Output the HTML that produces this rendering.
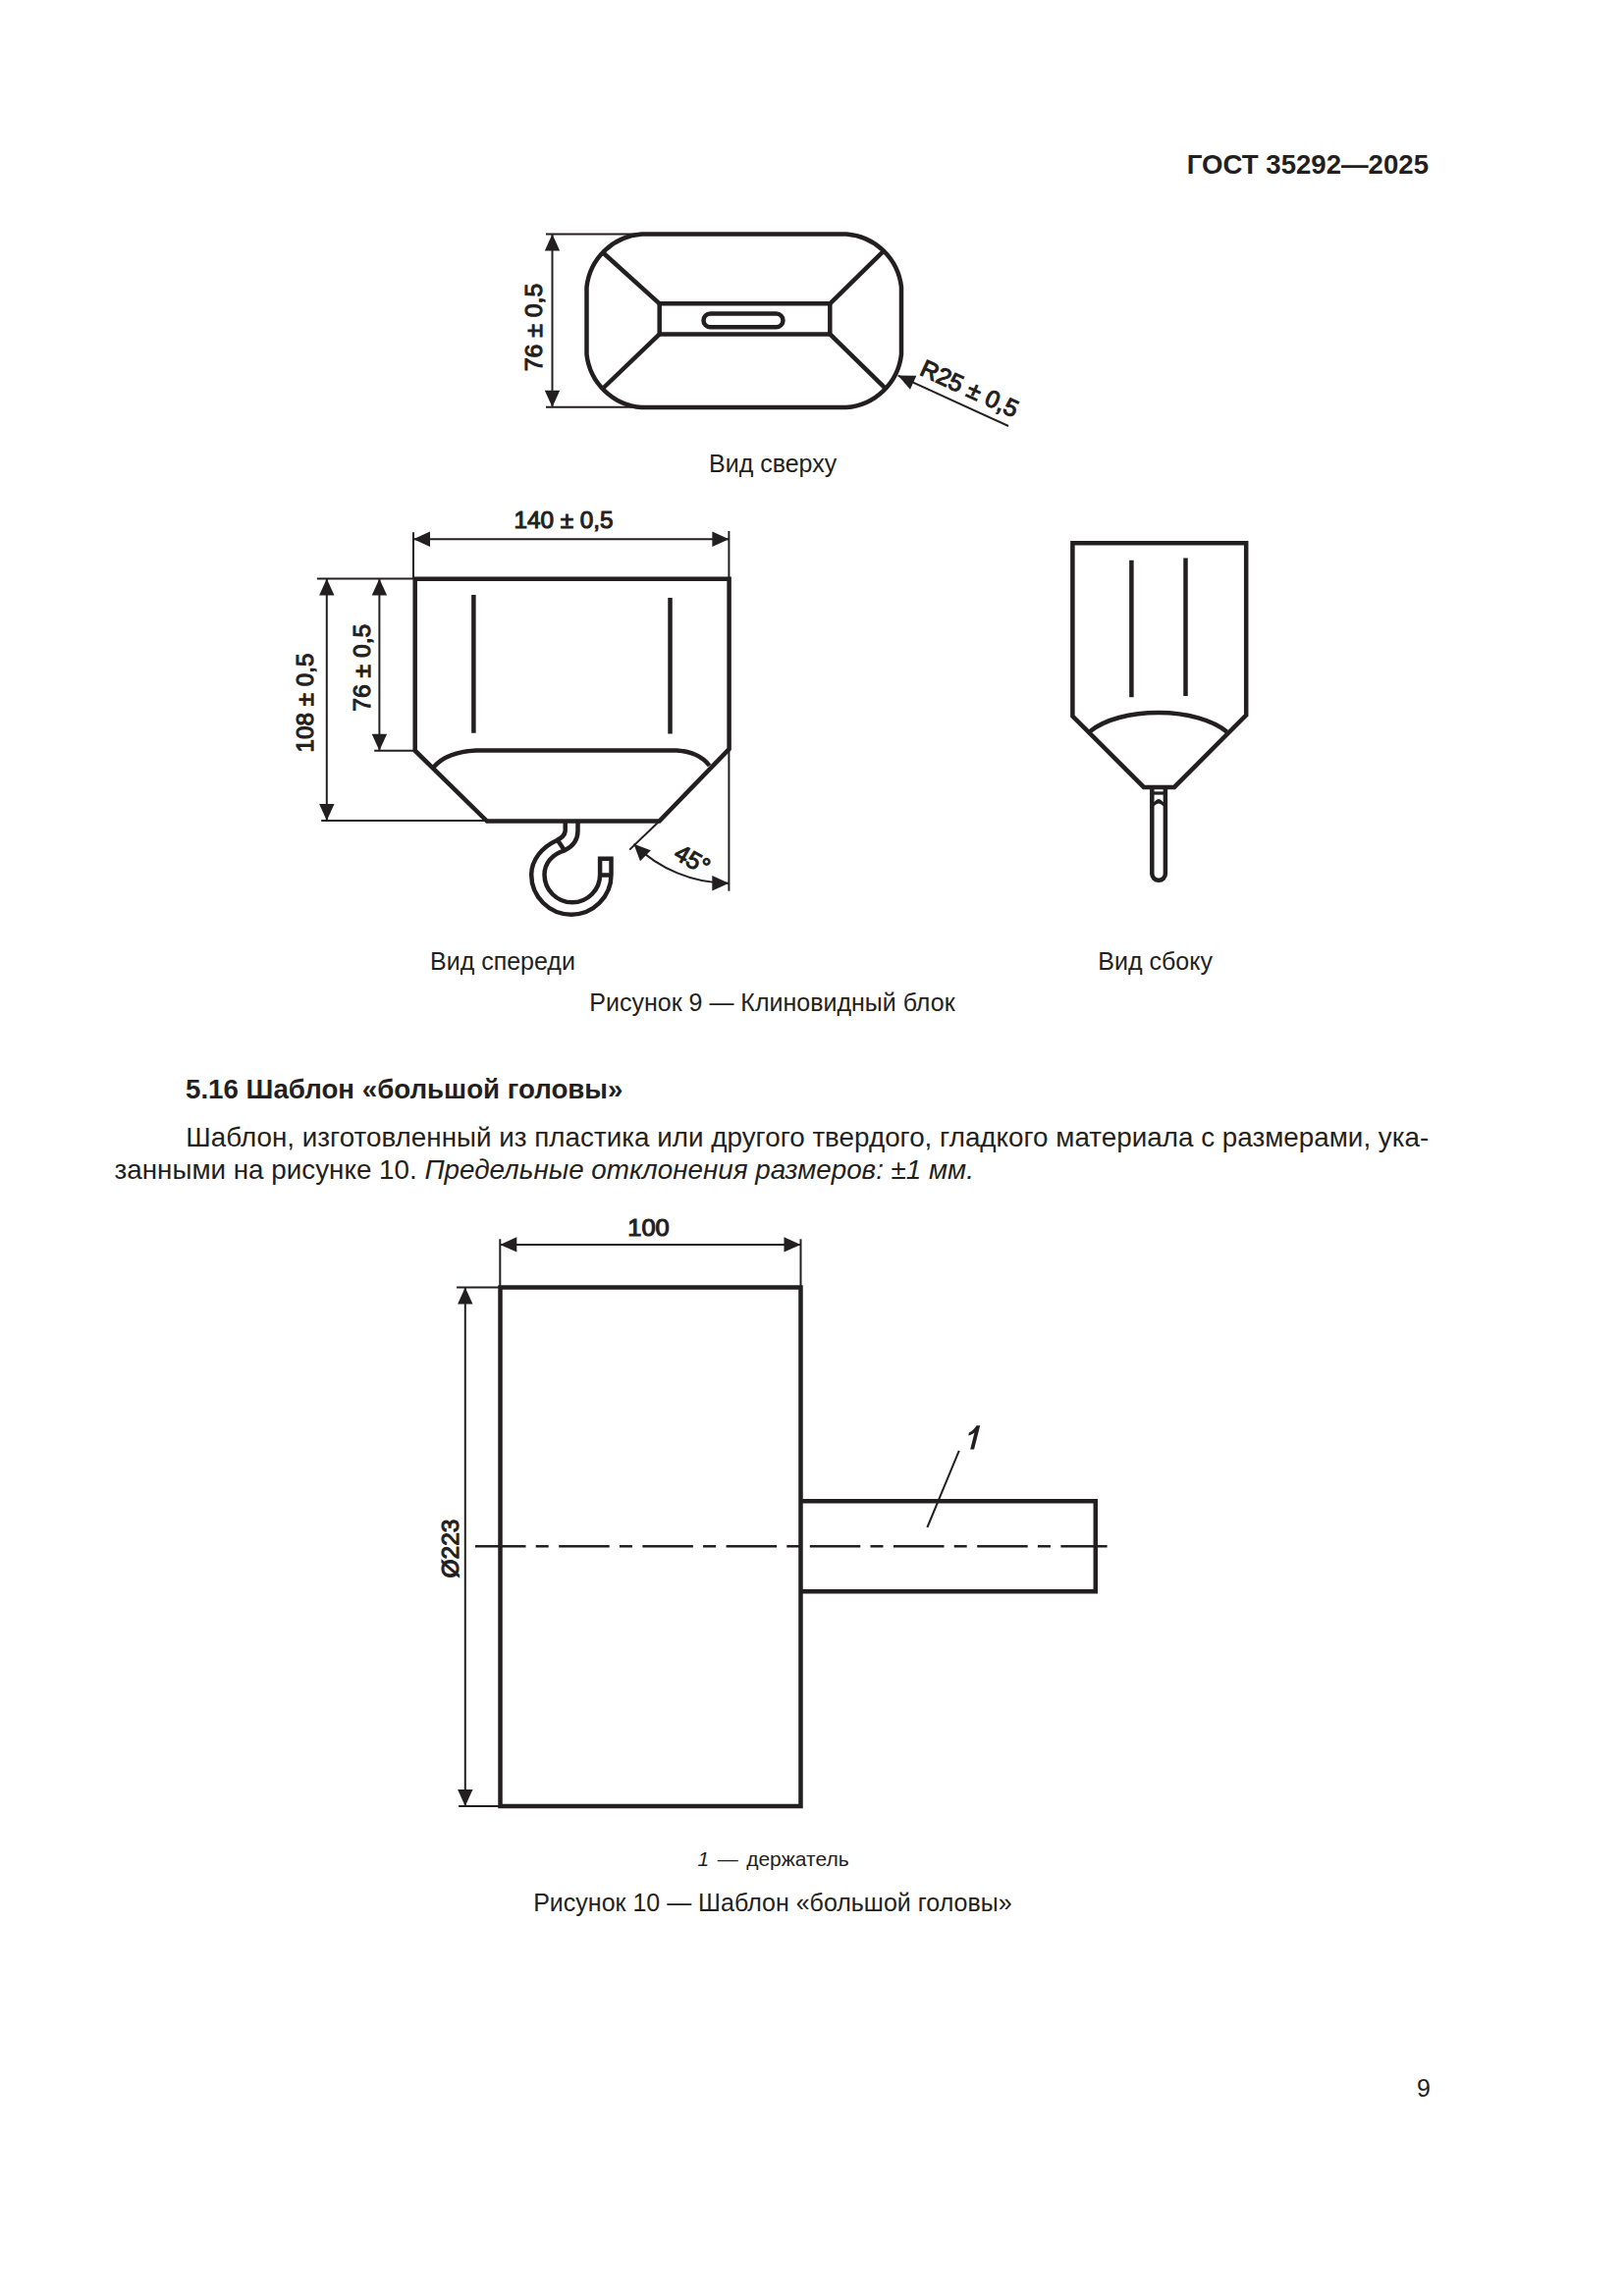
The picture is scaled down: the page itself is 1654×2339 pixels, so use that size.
<!DOCTYPE html>
<html><head><meta charset="utf-8"><style>
html,body{margin:0;padding:0;background:#fff;}
body{width:1654px;height:2339px;position:relative;overflow:hidden;font-family:"Liberation Sans",sans-serif;color:#231f20;}
svg{position:absolute;left:0;top:0;}
svg text{stroke:none;font-family:"Liberation Sans",sans-serif;fill:#231f20;}
svg text.dim{stroke:#231f20;stroke-width:1.1px;}
.t{position:absolute;white-space:nowrap;font-size:27.5px;line-height:1;}
</style></head><body>
<svg width="1654" height="2339" viewBox="0 0 1654 2339" stroke="#231f20" stroke-linecap="butt" stroke-linejoin="miter">
<path d="M653.5,238.5 H862.0 A61,61 0 0 1 918.0,292.5 V361.0 A61,61 0 0 1 862.0,415.0 H653.5 A61,61 0 0 1 597.5,361.0 V292.5 A61,61 0 0 1 653.5,238.5 Z" stroke-width="4.5" fill="none" />
<path d="M671.7,309.3 H845.3 V340.4 H671.7 Z" stroke-width="4.5" fill="none" />
<line x1="614.80" y1="258.00" x2="671.70" y2="309.30" stroke-width="4.5" />
<line x1="899.80" y1="255.90" x2="845.30" y2="309.30" stroke-width="4.5" />
<line x1="614.20" y1="395.50" x2="671.70" y2="340.40" stroke-width="4.5" />
<line x1="901.00" y1="394.80" x2="845.30" y2="340.40" stroke-width="4.5" />
<path d="M723.4,319.5 H790.6 A6.9,6.9 0 0 1 790.6,333.3 H723.4 A6.9,6.9 0 0 1 723.4,319.5 Z" stroke-width="4.5" fill="none" />
<line x1="556.00" y1="238.50" x2="650.00" y2="238.50" stroke-width="2.0" />
<line x1="556.00" y1="414.80" x2="650.00" y2="414.80" stroke-width="2.0" />
<line x1="562.50" y1="238.50" x2="562.50" y2="414.80" stroke-width="2.0" />
<polygon points="562.50,238.50 570.20,255.50 554.80,255.50" fill="#231f20" stroke="none"/>
<polygon points="562.50,414.80 554.80,397.80 570.20,397.80" fill="#231f20" stroke="none"/>
<text x="0" y="0" font-size="24.5" font-weight="normal" font-style="normal" text-anchor="middle" transform="translate(552,333.5) rotate(-90) scale(1.015,1)"  class="dim">76 ± 0,5</text>
<line x1="914.70" y1="382.60" x2="1027.00" y2="434.00" stroke-width="2.0" />
<polygon points="914.70,382.60 933.36,382.67 926.95,396.68" fill="#231f20" stroke="none"/>
<text x="0" y="0" font-size="24.5" font-weight="normal" font-style="normal" text-anchor="middle" transform="translate(984,403.5) rotate(24.6) scale(1.008,1)"  class="dim">R25 ± 0,5</text>
<text x="722" y="480.5" font-size="25" font-weight="normal" font-style="normal" text-anchor="start" >Вид сверху</text>
<path d="M422.7,589.8 H742.6 V763 L671.5,836.5 H496 L422.7,764.7 Z" stroke-width="4.5" fill="none" />
<path d="M441.8,781.3 Q455,766 484.9,764.5 H689.3 Q712,766 722.6,780" stroke-width="4.5" fill="none" />
<line x1="482.40" y1="606.00" x2="482.40" y2="746.80" stroke-width="4.5" />
<line x1="682.50" y1="609.10" x2="682.50" y2="747.40" stroke-width="4.5" />
<line x1="421.00" y1="542.30" x2="421.00" y2="589.80" stroke-width="2.0" />
<line x1="742.40" y1="541.00" x2="742.40" y2="589.80" stroke-width="2.0" />
<line x1="421.00" y1="549.20" x2="742.40" y2="549.20" stroke-width="2.0" />
<polygon points="421.00,549.20 438.00,541.50 438.00,556.90" fill="#231f20" stroke="none"/>
<polygon points="742.40,549.20 725.40,556.90 725.40,541.50" fill="#231f20" stroke="none"/>
<text x="0" y="0" font-size="24.5" font-weight="normal" font-style="normal" text-anchor="middle" transform="translate(574,537.7) scale(0.992,1)"  class="dim">140 ± 0,5</text>
<line x1="322.90" y1="589.60" x2="422.70" y2="589.60" stroke-width="2.0" />
<line x1="327.20" y1="836.10" x2="496.00" y2="836.10" stroke-width="2.0" />
<line x1="332.80" y1="589.60" x2="332.80" y2="836.10" stroke-width="2.0" />
<polygon points="332.80,589.60 340.50,606.60 325.10,606.60" fill="#231f20" stroke="none"/>
<polygon points="332.80,836.10 325.10,819.10 340.50,819.10" fill="#231f20" stroke="none"/>
<text x="0" y="0" font-size="24.5" font-weight="normal" font-style="normal" text-anchor="middle" transform="translate(318.7,716) rotate(-90) scale(0.991,1)"  class="dim">108 ± 0,5</text>
<line x1="381.20" y1="764.70" x2="422.70" y2="764.70" stroke-width="2.0" />
<line x1="386.40" y1="589.60" x2="386.40" y2="764.70" stroke-width="2.0" />
<polygon points="386.40,589.60 394.10,606.60 378.70,606.60" fill="#231f20" stroke="none"/>
<polygon points="386.40,764.70 378.70,747.70 394.10,747.70" fill="#231f20" stroke="none"/>
<text x="0" y="0" font-size="24.5" font-weight="normal" font-style="normal" text-anchor="middle" transform="translate(376.9,680.2) rotate(-90) scale(1.008,1)"  class="dim">76 ± 0,5</text>
<line x1="671.50" y1="836.50" x2="641.20" y2="865.60" stroke-width="2.0" />
<line x1="742.40" y1="763.00" x2="742.40" y2="907.70" stroke-width="2.0" />
<path d="M645.43,859.67 A137,137 0 0 0 742.30,899.80" stroke-width="2.0" fill="none" />
<polygon points="645.43,859.67 662.89,866.25 652.00,877.14" fill="#231f20" stroke="none"/>
<polygon points="742.30,899.80 725.30,907.50 725.30,892.10" fill="#231f20" stroke="none"/>
<text x="0" y="0" font-size="24.5" font-weight="normal" font-style="normal" text-anchor="middle" transform="translate(701,883) rotate(30)"  class="dim">45°</text>
<path d="M575.7,836.3 V846.6 C575,852 571,854 567.3,856 C552,863 541.2,876 541.2,891 A40.6,40.6 0 0 0 622.5,891 V874.7 H611.1 V891 A28.3,28.3 0 0 1 554.5,891 C554.5,880 562,870 575.2,866.3 C584,862 588.5,856 588.5,846.6 V836.3" stroke-width="4.5" fill="none" />
<line x1="611.10" y1="891.50" x2="622.50" y2="891.50" stroke-width="4.5" />
<line x1="568.30" y1="856.50" x2="574.20" y2="865.30" stroke-width="4.5" />
<path d="M1092.4,553.3 H1269.2 V728.5 L1196,801.9 H1164.9 L1092.4,729.5 Z" stroke-width="4.5" fill="none" />
<line x1="1152.40" y1="570.70" x2="1152.40" y2="710.20" stroke-width="4.5" />
<line x1="1207.50" y1="568.60" x2="1207.50" y2="708.90" stroke-width="4.5" />
<path d="M1110.3,745 A80,38 0 0 1 1249.5,745.5" stroke-width="4.5" fill="none" />
<path d="M1173.3,801.9 V890 A6.8,6.8 0 0 0 1186.9,890 V801.9" stroke-width="4.5" fill="none" />
<line x1="1173.30" y1="808.00" x2="1186.90" y2="808.00" stroke-width="3.3" />
<path d="M1175,821.2 V817.6 Q1178,814 1180,814 Q1182,814 1185,817.6 V821.2 Q1182,818.6 1180,818.6 Q1178,818.6 1175,821.2 Z" fill="#231f20" stroke="none"/>
<text x="438" y="987.7" font-size="25" font-weight="normal" font-style="normal" text-anchor="start" >Вид спереди</text>
<text x="1118.3" y="987.6" font-size="25" font-weight="normal" font-style="normal" text-anchor="start" >Вид сбоку</text>
<text x="600.3" y="1029.6" font-size="25" font-weight="normal" font-style="normal" text-anchor="start" >Рисунок 9 — Клиновидный блок</text>
<path d="M509.5,1311.6 H815.5 V1839.9 H509.5 Z" stroke-width="4.5" fill="none" />
<path d="M815.5,1529.3 H1115.8 V1621.3 H815.5" stroke-width="4.5" fill="none" />
<line x1="484.00" y1="1575.20" x2="1127.60" y2="1575.20" stroke-width="2.5" stroke-dasharray="51.5 10.2 13 10.5"/>
<line x1="509.30" y1="1262.30" x2="509.30" y2="1311.60" stroke-width="2.0" />
<line x1="815.50" y1="1262.30" x2="815.50" y2="1311.60" stroke-width="2.0" />
<line x1="509.30" y1="1267.90" x2="815.50" y2="1267.90" stroke-width="2.0" />
<polygon points="509.30,1267.90 526.30,1260.20 526.30,1275.60" fill="#231f20" stroke="none"/>
<polygon points="815.50,1267.90 798.50,1275.60 798.50,1260.20" fill="#231f20" stroke="none"/>
<text x="0" y="0" font-size="24.5" font-weight="normal" font-style="normal" text-anchor="middle" transform="translate(660.5,1258.8) scale(1.04,1)"  class="dim">100</text>
<line x1="465.10" y1="1311.60" x2="509.50" y2="1311.60" stroke-width="2.0" />
<line x1="467.10" y1="1839.90" x2="509.50" y2="1839.90" stroke-width="2.0" />
<line x1="473.80" y1="1311.60" x2="473.80" y2="1839.90" stroke-width="2.0" />
<polygon points="473.80,1311.60 481.50,1328.60 466.10,1328.60" fill="#231f20" stroke="none"/>
<polygon points="473.80,1839.90 466.10,1822.90 481.50,1822.90" fill="#231f20" stroke="none"/>
<text x="0" y="0" font-size="24.5" font-weight="normal" font-style="normal" text-anchor="middle" transform="translate(467,1577.5) rotate(-90)"  class="dim">Ø223</text>
<line x1="944.40" y1="1556.00" x2="976.80" y2="1477.90" stroke-width="2.0" />
<path d="M994.6,1452.3 L998.2,1452.3 L992.1,1476.6 L988.2,1476.6 L992.5,1459.3 C990.6,1461 988.6,1462.1 986.3,1462.6 L986.9,1459.4 C990,1458.2 992.6,1455.6 994.6,1452.3 Z" fill="#231f20" stroke="none"/>
<text x="710.6" y="1900.5" font-size="21" word-spacing="2.6"><tspan font-style="italic">1</tspan> — держатель</text>
<text x="543.2" y="1946.8" font-size="25" font-weight="normal" font-style="normal" text-anchor="start" >Рисунок 10 — Шаблон «большой головы»</text>
<text x="1455" y="176.7" font-size="27.6" font-weight="bold" text-anchor="end">ГОСТ 35292—2025</text>
<text x="189" y="1118.9" font-size="27.7" font-weight="bold">5.16 Шаблон «большой головы»</text>
<text x="189.3" y="1167.7" font-size="27.8" textLength="1266" lengthAdjust="spacing">Шаблон, изготовленный из пластика или другого твердого, гладкого материала с размерами, ука-</text>
<text x="116.5" y="1200.7" font-size="27.8">занными на рисунке 10. <tspan font-style="italic">Предельные отклонения размеров: ±1 мм.</tspan></text>
<text x="1443" y="2135.8" font-size="25">9</text>
</svg>
</body></html>
